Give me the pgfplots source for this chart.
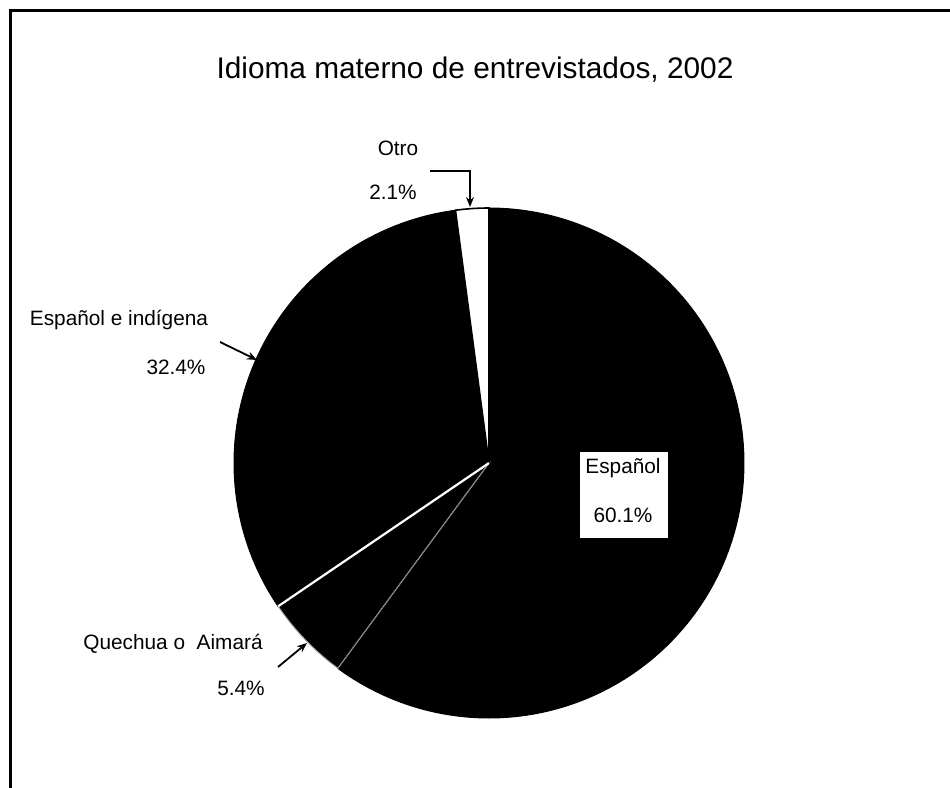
\documentclass[border=0pt]{standalone}
\usepackage{fontspec}
\setmainfont{Liberation Sans}
\usepackage{pgfplots}
\pgfplotsset{compat=1.18}
\usetikzlibrary{arrows.meta}
\begin{document}
\begin{tikzpicture}
% pie geometry in pixel units of the reference
\def\cx{489}\def\cy{463}\def\R{255}
% data (percent)
\def\vEsp{60.1}\def\vQue{5.4}\def\vInd{32.4}\def\vOtr{2.1}
\pgfmathsetmacro\aA{90}
\pgfmathsetmacro\aB{\aA-3.6*\vEsp}
\pgfmathsetmacro\aC{\aB-3.6*\vQue}
\pgfmathsetmacro\aD{\aC-3.6*\vInd}
\pgfmathsetmacro\aE{\aD-3.6*\vOtr}
\pgfmathsetmacro\xB{\cx+\R*cos(\aB)}\pgfmathsetmacro\yB{\cy-\R*sin(\aB)}
\pgfmathsetmacro\xC{\cx+\R*cos(\aC)}\pgfmathsetmacro\yC{\cy-\R*sin(\aC)}
\begin{axis}[scale only axis, width=475pt, height=394pt,
  xmin=0, xmax=950, ymin=0, ymax=788, y dir=reverse,
  hide axis, clip=false]
% Español
\addplot[fill=black, draw=black, line width=0.5pt, mark=none, domain=\aB:\aA, samples=150]
  ({\cx+\R*cos(x)},{\cy-\R*sin(x)}) -- (axis cs:\cx,\cy) -- cycle;
% Quechua o Aimará
\addplot[fill=black, draw=gray!60, line width=0.5pt, mark=none, domain=\aC:\aB, samples=40]
  ({\cx+\R*cos(x)},{\cy-\R*sin(x)}) -- (axis cs:\cx,\cy) -- cycle;
% Español e indígena
\addplot[fill=black, draw=black, line width=0.5pt, mark=none, domain=\aD:\aC, samples=120]
  ({\cx+\R*cos(x)},{\cy-\R*sin(x)}) -- (axis cs:\cx,\cy) -- cycle;
% Otro
\addplot[fill=white, draw=black, line width=0.8pt, mark=none, domain=\aE:\aD, samples=20]
  ({\cx+\R*cos(x)},{\cy-\R*sin(x)}) -- (axis cs:\cx,\cy) -- cycle;
% separators
\draw[gray, line width=0.4pt] (axis cs:\cx,\cy) -- (axis cs:\xB,\yB);
\draw[white, line width=1.1pt] (axis cs:\cx,\cy) -- (axis cs:\xC,\yC);
% frame
\draw[line width=1.5pt] (axis cs:10,788) -- (axis cs:10,10) -- (axis cs:950,10);
% title
\node[font=\fontsize{14.9}{17}\selectfont] at (axis cs:475,70) {Idioma materno de entrevistados, 2002};
% labels
\node[font=\fontsize{10.4}{12}\selectfont] at (axis cs:398,148) {Otro};
\node[font=\fontsize{10.4}{12}\selectfont] at (axis cs:393,192) {2.1\%};
\node[font=\fontsize{10.4}{12}\selectfont] at (axis cs:119,320) {Español e indígena};
\node[font=\fontsize{10.4}{12}\selectfont] at (axis cs:176,367) {32.4\%};
\node[font=\fontsize{10.4}{12}\selectfont] at (axis cs:173,644) {Quechua o\ \ Aimará};
\node[font=\fontsize{10.4}{12}\selectfont] at (axis cs:241,688) {5.4\%};
\node[fill=white, minimum width=44pt, minimum height=43pt, inner sep=0pt] at (axis cs:624,495) {};
\node[font=\fontsize{10.4}{12}\selectfont] at (axis cs:623,468) {Español};
\node[font=\fontsize{10.4}{12}\selectfont] at (axis cs:623,515) {60.1\%};
% arrows
\draw[line width=0.9pt, -{Stealth[length=5pt,width=4pt]}] (axis cs:430,171) -- (axis cs:470,171) -- (axis cs:470,207);
\draw[line width=0.9pt, -{Stealth[length=5pt,width=4pt]}] (axis cs:220,342) -- (axis cs:257,360);
\draw[line width=0.9pt, -{Stealth[length=5pt,width=4pt]}] (axis cs:278,667) -- (axis cs:307,643);
\end{axis}
\pgfresetboundingbox
\useasboundingbox (0,0) rectangle (475pt,394pt);
\end{tikzpicture}
\end{document}
